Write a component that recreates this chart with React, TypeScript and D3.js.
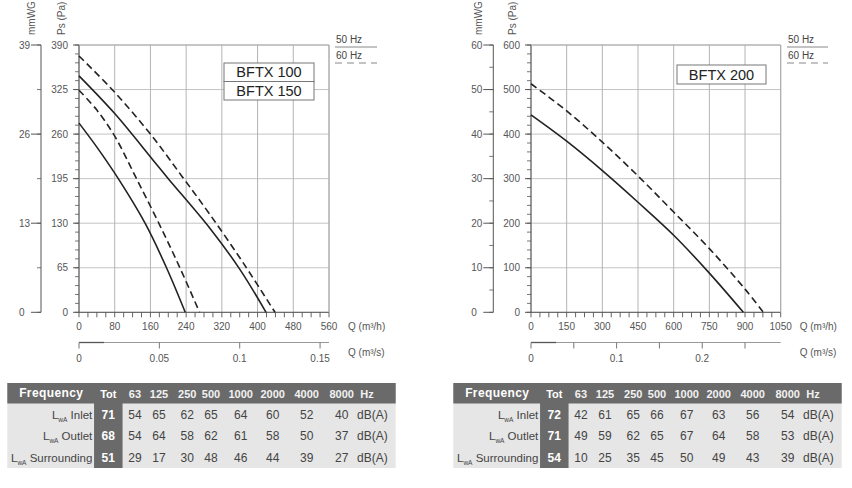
import React from "react";
import * as d3 from "d3";

// ---------- data ----------
const leftQTicks = [0, 80, 160, 240, 320, 400, 480, 560];
const leftPaTicks = [0, 65, 130, 195, 260, 325, 390];
const leftMmTicks = [0, 13, 26, 39];
const leftQsTicks = [0, 0.05, 0.1, 0.15];
const leftQsLabels = [0, 0.05, 0.1, 0.15];

const rightQTicks = [0, 150, 300, 450, 600, 750, 900, 1050];
const rightPaTicks = [0, 100, 200, 300, 400, 500, 600];
const rightMmTicks = [0, 10, 20, 30, 40, 50, 60];
const rightQsTicks = [0, 0.05, 0.1, 0.15, 0.2, 0.25];
const rightQsLabels = [0, 0.1, 0.2];

// [Q m3/h, Ps Pa]
const bftx100Hz50: [number, number][] = [[0, 276], [40, 241], [88, 195], [148, 130], [196, 65], [238, 0]];
const bftx100Hz60: [number, number][] = [[0, 324], [40, 295], [80, 257], [128, 196], [178, 131], [226, 65], [270, 0]];
const bftx150Hz50: [number, number][] = [[0, 345], [80, 290], [166, 222], [200, 195], [294, 122], [360, 63], [419, 0]];
const bftx150Hz60: [number, number][] = [[0, 374], [80, 321], [160, 260], [230, 199], [294, 142], [370, 70], [439, 0]];
const bftx200Hz50: [number, number][] = [[0, 443], [150, 384], [300, 318], [450, 247], [600, 173], [750, 88], [893, 0]];
const bftx200Hz60: [number, number][] = [[0, 513], [150, 452], [300, 382], [450, 306], [600, 225], [750, 143], [900, 52], [977, 0]];

const freqHeaders = ["63", "125", "250", "500", "1000", "2000", "4000", "8000"];
const rowLabels = ["Inlet", "Outlet", "Surrounding"];
const leftTot = [71, 68, 51];
const leftInlet = [54, 65, 62, 65, 64, 60, 52, 40];
const leftOutlet = [54, 64, 58, 62, 61, 58, 50, 37];
const leftSurrounding = [29, 17, 30, 48, 46, 44, 39, 27];
const rightTot = [72, 71, 54];
const rightInlet = [42, 61, 65, 66, 67, 63, 56, 54];
const rightOutlet = [49, 59, 62, 65, 67, 64, 58, 53];
const rightSurrounding = [10, 25, 35, 45, 50, 49, 43, 39];

const FONT = "'Liberation Sans', Arial, Helvetica, sans-serif";
const Y_TOP = 45;
const Y_BOT = 312.3;

type Curve = { data: [number, number][]; dashed: boolean };

interface ChartProps {
  plotX0: number;
  plotX1: number;
  qMax: number;
  paMax: number;
  mmMax: number;
  qTicks: number[];
  paTicks: number[];
  mmTicks: number[];
  qMinor: number;
  paMinor: number;
  mmMinor: number;
  qsTicks: number[];
  qsLabels: number[];
  mmAxisX: number;
  mmTitleX: number;
  psTitleX: number;
  legendX: number;
  legendX2: number;
  curves: Curve[];
  boxes: { label: string; x: number; y: number; w: number; h: number }[];
}

function Chart(p: ChartProps) {
  const x = d3.scaleLinear().domain([0, p.qMax]).range([p.plotX0, p.plotX1]);
  const y = d3.scaleLinear().domain([0, p.paMax]).range([Y_BOT, Y_TOP]);
  const ymm = d3.scaleLinear().domain([0, p.mmMax]).range([Y_BOT, Y_TOP]);
  const xs = d3.scaleLinear().domain([0, p.qMax / 3600]).range([p.plotX0, p.plotX1]);
  const line = d3
    .line<[number, number]>()
    .x((d) => x(d[0]))
    .y((d) => y(d[1]))
    .curve(d3.curveCatmullRom.alpha(0.5));
  const qMinorTicks = d3.range(0, p.qMax + 0.001, p.qMinor);
  const paMinorTicks = d3.range(0, p.paMax + 0.001, p.paMinor);
  const mmMinorTicks = d3.range(0, p.mmMax + 0.001, p.mmMinor);
  const tickCol = "#555";
  const labCol = "#555";
  const secY = 342.5;
  return (
    <g fontFamily={FONT}>
      {/* titles */}
      <text transform={`translate(${p.mmTitleX},35) rotate(-90)`} fontSize={10} fill={labCol}>mmWG</text>
      <text transform={`translate(${p.psTitleX},35) rotate(-90)`} fontSize={10} fill={labCol}>Ps (Pa)</text>
      {/* grid */}
      {p.paTicks.map((t) => (
        <line key={"gh" + t} x1={p.plotX0} x2={p.plotX1} y1={y(t)} y2={y(t)} stroke="#c4c4c4" strokeWidth={1} />
      ))}
      {p.qTicks.map((t) => (
        <line key={"gv" + t} x1={x(t)} x2={x(t)} y1={Y_TOP} y2={Y_BOT} stroke="#b4b4b4" strokeWidth={1} />
      ))}
      {/* axes */}
      <line x1={p.plotX0} x2={p.plotX0} y1={Y_TOP} y2={Y_BOT} stroke={tickCol} strokeWidth={1} />
      <line x1={p.plotX0} x2={p.plotX1} y1={Y_BOT} y2={Y_BOT} stroke={tickCol} strokeWidth={1} />
      {paMinorTicks.map((t) => (
        <line key={"pm" + t} x1={p.plotX0 - 4} x2={p.plotX0} y1={y(t)} y2={y(t)} stroke={tickCol} strokeWidth={0.8} />
      ))}
      {p.paTicks.map((t) => (
        <g key={"pt" + t}>
          <line x1={p.plotX0 - 6} x2={p.plotX0} y1={y(t)} y2={y(t)} stroke={tickCol} strokeWidth={1} />
          <text x={p.plotX0 - 11} y={y(t) + 3.5} fontSize={10} textAnchor="end" fill={labCol}>{t}</text>
        </g>
      ))}
      {/* mmWG axis */}
      <line x1={p.mmAxisX} x2={p.mmAxisX} y1={Y_TOP} y2={Y_BOT} stroke={tickCol} strokeWidth={1} />
      {mmMinorTicks.map((t) => (
        <line key={"mm" + t} x1={p.mmAxisX - 4} x2={p.mmAxisX} y1={ymm(t)} y2={ymm(t)} stroke={tickCol} strokeWidth={0.8} />
      ))}
      {p.mmTicks.map((t) => (
        <g key={"mt" + t}>
          <line x1={p.mmAxisX - 10} x2={p.mmAxisX} y1={ymm(t)} y2={ymm(t)} stroke={tickCol} strokeWidth={1} />
          <text x={p.mmAxisX - 22} y={ymm(t) + 3.5} fontSize={10} fill={labCol}>{t}</text>
        </g>
      ))}
      {/* x axis */}
      {qMinorTicks.map((t) => (
        <line key={"qm" + t} x1={x(t)} x2={x(t)} y1={Y_BOT} y2={Y_BOT + 5} stroke={tickCol} strokeWidth={0.9} />
      ))}
      {p.qTicks.map((t) => (
        <text key={"ql" + t} x={x(t)} y={330} fontSize={10} textAnchor="middle" fill={labCol}>{t}</text>
      ))}
      <text x={p.plotX1 + 19} y={330} fontSize={10} fill={labCol}>Q (m³/h)</text>
      {/* secondary axis */}
      <line x1={p.plotX0} x2={p.plotX1} y1={secY} y2={secY} stroke="#999" strokeWidth={1} />
      <line x1={p.plotX0} x2={p.plotX0 + 25} y1={secY} y2={secY} stroke="#555" strokeWidth={1.3} />
      {p.qsTicks.map((t) => (
        <line key={"qs" + t} x1={xs(t)} x2={xs(t)} y1={secY} y2={secY + 6} stroke="#777" strokeWidth={1} />
      ))}
      {p.qsLabels.map((t) => (
        <text key={"qsl" + t} x={xs(t)} y={362} fontSize={10} textAnchor="middle" fill={labCol}>{t}</text>
      ))}
      <text x={p.plotX1 + 19} y={356} fontSize={10} fill={labCol}>Q (m³/s)</text>
      {/* border */}
      <line x1={p.plotX0} x2={p.plotX1} y1={Y_TOP} y2={Y_TOP} stroke="#aaa" strokeWidth={1} />
      <line x1={p.plotX1} x2={p.plotX1} y1={Y_TOP} y2={Y_BOT} stroke="#aaa" strokeWidth={1} />
      {/* curves */}
      {p.curves.map((c, i) => (
        <path
          key={"c" + i}
          d={line(c.data) || ""}
          fill="none"
          stroke="#222"
          strokeWidth={1.6}
          strokeDasharray={c.dashed ? "7,4" : undefined}
        />
      ))}
      {/* boxes */}
      {p.boxes.map((b) => (
        <g key={b.label}>
          <rect x={b.x} y={b.y} width={b.w} height={b.h} fill="#fff" stroke="#777" strokeWidth={1} />
          <text x={b.x + b.w / 2} y={b.y + b.h / 2 + 5} fontSize={14.5} textAnchor="middle" fill="#222">{b.label}</text>
        </g>
      ))}
      {/* legend */}
      <text x={p.legendX} y={43} fontSize={10} fill="#444">50 Hz</text>
      <line x1={p.legendX - 1} x2={p.legendX2} y1={47} y2={47} stroke="#888" strokeWidth={1} />
      <text x={p.legendX} y={59} fontSize={10} fill="#444">60 Hz</text>
      <line x1={p.legendX - 1} x2={p.legendX2} y1={63} y2={63} stroke="#888" strokeWidth={1} strokeDasharray="7,5" />
    </g>
  );
}

function SoundTable({ x0, tot, rows }: { x0: number; tot: number[]; rows: number[][] }) {
  const colX = [135, 159, 187.3, 211, 240.7, 272.7, 306.7, 341.7].map((v) => v - 7.3);
  const totX = 108.3 - 7.3;
  const totW = 28.5;
  const top = 383;
  const headH = 20.5;
  const rowH = 21.5;
  const width = 388.4;
  const darkBg = "#6a6a6a";
  return (
    <g fontFamily={FONT} transform={`translate(${x0},0)`}>
      <rect x={0} y={top} width={width} height={headH + rowH * 3} fill="#e6e6e6" />
      <rect x={0} y={top} width={width} height={headH} fill={darkBg} />
      <rect x={totX - totW / 2} y={top} width={totW} height={headH + rowH * 3} fill={darkBg} />
      <text x={44} y={top + 14} fontSize={12} fontWeight="bold" fill="#fff" textAnchor="middle" letterSpacing={0.4}>Frequency</text>
      <text x={totX} y={top + 15} fontSize={11} fontWeight="bold" fill="#fff" textAnchor="middle">Tot</text>
      {freqHeaders.map((h, i) => (
        <text key={h} x={colX[i]} y={top + 15} fontSize={11} fontWeight="bold" fill="#f2f2f2" textAnchor="middle">{h}</text>
      ))}
      <text x={353} y={top + 15} fontSize={11} fontWeight="bold" fill="#f2f2f2">Hz</text>
      {rowLabels.map((lab, r) => {
        const cy = top + headH + rowH * r + 15;
        return (
          <g key={lab}>
            <text x={85} y={cy} fontSize={11.5} fill="#444" textAnchor="end">
              L<tspan fontSize={6.5} dy={3}>wA</tspan><tspan dy={-3}> {lab}</tspan>
            </text>
            <text x={totX} y={cy} fontSize={12} fontWeight="bold" fill="#fff" textAnchor="middle">{tot[r]}</text>
            {rows[r].map((v, i) => (
              <text key={i} x={colX[i]} y={cy} fontSize={12} fill="#444" textAnchor="middle">{v}</text>
            ))}
            <text x={365} y={cy} fontSize={12} fill="#444" textAnchor="middle">dB(A)</text>
          </g>
        );
      })}
    </g>
  );
}

export default function App() {
  return (
    <svg width={852} height={488} style={{ position: "absolute", left: 0, top: 0, background: "#fff" }}>
      <rect x={0} y={0} width={852} height={488} fill="#fff" />
      <Chart
        plotX0={79}
        plotX1={329}
        qMax={560}
        paMax={390}
        mmMax={39}
        qTicks={leftQTicks}
        paTicks={leftPaTicks}
        mmTicks={leftMmTicks}
        qMinor={20}
        paMinor={13}
        mmMinor={6.5}
        qsTicks={leftQsTicks}
        qsLabels={leftQsLabels}
        mmAxisX={41}
        mmTitleX={35}
        psTitleX={65}
        legendX={336}
        legendX2={377}
        curves={[
          { data: bftx100Hz50, dashed: false },
          { data: bftx100Hz60, dashed: true },
          { data: bftx150Hz50, dashed: false },
          { data: bftx150Hz60, dashed: true },
        ]}
        boxes={[
          { label: "BFTX 100", x: 224, y: 63, w: 90, h: 18.5 },
          { label: "BFTX 150", x: 224, y: 81.5, w: 90, h: 18.5 },
        ]}
      />
      <Chart
        plotX0={531}
        plotX1={780.7}
        qMax={1050}
        paMax={600}
        mmMax={60}
        qTicks={rightQTicks}
        paTicks={rightPaTicks}
        mmTicks={rightMmTicks}
        qMinor={37.5}
        paMinor={20}
        mmMinor={5}
        qsTicks={rightQsTicks}
        qsLabels={rightQsLabels}
        mmAxisX={493.3}
        mmTitleX={482}
        psTitleX={516}
        legendX={788}
        legendX2={828}
        curves={[
          { data: bftx200Hz50, dashed: false },
          { data: bftx200Hz60, dashed: true },
        ]}
        boxes={[{ label: "BFTX 200", x: 677, y: 65, w: 89, h: 19 }]}
      />
      <SoundTable x0={7.3} tot={leftTot} rows={[leftInlet, leftOutlet, leftSurrounding]} />
      <SoundTable x0={453.3} tot={rightTot} rows={[rightInlet, rightOutlet, rightSurrounding]} />
    </svg>
  );
}
